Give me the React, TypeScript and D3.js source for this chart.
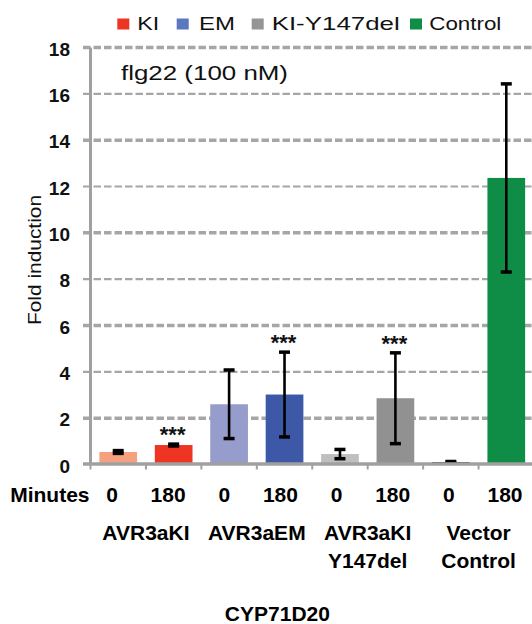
import React from "react";
import * as d3 from "d3";

const categories = ["0", "180", "0", "180", "0", "180", "0", "180"];
const values = [0.54, 0.84, 2.6, 3.02, 0.45, 2.86, 0.1, 12.37];
const errors = [0.06, 0.04, 1.48, 1.83, 0.2, 1.96, 0.03, 4.06];
const barColors = ["#F5A07F", "#EE3524", "#969CCC", "#3C58A6", "#BFBFBF", "#919191", "#000000", "#0F8C45"];
const significance = ["", "***", "", "***", "", "***", "", ""];
const groups = [["AVR3aKI"], ["AVR3aEM"], ["AVR3aKI", "Y147del"], ["Vector", "Control"]];
const legendLabels = ["KI", "EM", "KI-Y147del", "Control"];
const legendColors = ["#EE3524", "#5A78BE", "#959595", "#0F8C45"];
const yTicks = [0, 2, 4, 6, 8, 10, 12, 14, 16, 18];
const yTickLabels = ["0", "2", "4", "6", "8", "10", "12", "14", "16", "18"];
const treatment = "flg22 (100 nM)";
const yTitle = "Fold induction";
const rowTitle = "Minutes";
const chartTitle = "CYP71D20";

const FONT = "'Liberation Sans', Arial, Helvetica, sans-serif";

export default function App() {
  const W = 532, H = 624;
  const x0 = 90.5, x1 = 534;
  const x = d3.scaleBand<number>().domain(d3.range(categories.length)).range([x0, x1]).paddingInner(0.32).paddingOuter(0.16);
  const y = d3.scaleLinear().domain([0, 18]).range([464.5, 47.5]);
  const step = x.step();
  const bw = x.bandwidth();
  const labelX = d3.scalePoint<number>().domain(d3.range(categories.length)).range([112, 505]);
  const axisColor = "#A0A0A0";
  const gridColor = "#A6A6A6";

  const legendSq = [117.3, 176.7, 251.7, 410];
  const legendTx = [137.3, 199, 271.7, 429.3];
  const legendLen = [22, 36, 128, 72];

  return (
    <svg width={W} height={H} style={{ position: "absolute", left: 0, top: 0, background: "#fff" }} fontFamily={FONT}>
      {legendLabels.map((l, i) => (
        <g key={"lg" + i}>
          <rect x={legendSq[i]} y={18.5} width={12} height={11} fill={legendColors[i]} />
          <text x={legendTx[i]} y={30} fontSize={19} textLength={legendLen[i]} lengthAdjust="spacingAndGlyphs" fill="#111">{l}</text>
        </g>
      ))}
      {yTicks.filter(t => t > 0).map(t => (
        <line key={"g" + t} x1={83} x2={534} y1={y(t)} y2={y(t)} stroke={gridColor}
          strokeWidth={(t / 2) % 2 === 1 ? 3.5 : 2.2} strokeDasharray="7.5,3" />
      ))}
      {yTicks.map((t, i) => (
        <text key={"yl" + t} x={70} y={y(t) + 1.5} textAnchor="end" dominantBaseline="central" fontSize={19} fontWeight="bold" fill="#111">{yTickLabels[i]}</text>
      ))}
      {values.map((v, i) => (
        <rect key={"b" + i} x={x(i)} y={y(v)} width={bw} height={y(0) - y(v)} fill={barColors[i]} />
      ))}
      {values.map((v, i) => {
        const cx = (x(i) as number) + bw / 2;
        const top = y(v + errors[i]);
        const bot = y(Math.max(0, v - errors[i]));
        return (
          <g key={"e" + i} stroke="#000">
            <line x1={cx} x2={cx} y1={top} y2={bot} strokeWidth={2.6} />
            <line x1={cx - 5.5} x2={cx + 5.5} y1={top} y2={top} strokeWidth={3.5} />
            <line x1={cx - 5.5} x2={cx + 5.5} y1={bot} y2={bot} strokeWidth={3.5} />
          </g>
        );
      })}
      {values.map((v, i) => significance[i] ? (
        <text key={"s" + i} x={(x(i) as number) + bw / 2 - 1} y={y(v + errors[i]) - 2} textAnchor="middle" fontSize={22} fontWeight="bold" fill="#111">{significance[i]}</text>
      ) : null)}
      <line x1={x0} x2={x0} y1={47.5} y2={464} stroke={axisColor} strokeWidth={3} />
      <line x1={83} x2={534} y1={464} y2={464} stroke={axisColor} strokeWidth={3.5} />
      {d3.range(categories.length).map(i => (
        <line key={"t" + i} x1={x0 + i * step} x2={x0 + i * step} y1={464} y2={469.5} stroke={axisColor} strokeWidth={2} />
      ))}
      <text x={121} y={80.4} fontSize={19.5} textLength={167} lengthAdjust="spacingAndGlyphs" fill="#111">{treatment}</text>
      <text transform={`translate(40.5,260) rotate(-90)`} textAnchor="middle" fontSize={18} textLength={130} lengthAdjust="spacingAndGlyphs" fill="#111">{yTitle}</text>
      <text x={10.2} y={502.4} fontSize={21} fontWeight="bold" fill="#000">{rowTitle}</text>
      {categories.map((c, i) => (
        <text key={"c" + i} x={labelX(i)} y={502.4} textAnchor="middle" fontSize={21} fontWeight="bold" fill="#000">{c}</text>
      ))}
      {groups.map((g, gi) => (
        <text key={"gr" + gi} x={x0 + step * (2 * gi + 1)} y={539.7} textAnchor="middle" fontSize={21} fontWeight="bold" fill="#000">
          {g.map((line, li) => (
            <tspan key={li} x={x0 + step * (2 * gi + 1)} dy={li === 0 ? 0 : 28.2}>{line}</tspan>
          ))}
        </text>
      ))}
      <text x={277.4} y={621} textAnchor="middle" fontSize={21} fontWeight="bold" fill="#000">{chartTitle}</text>
    </svg>
  );
}
